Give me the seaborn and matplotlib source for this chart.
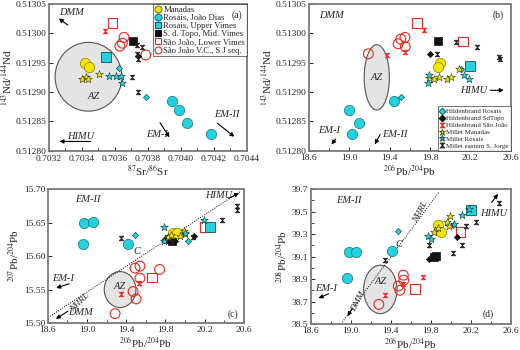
import numpy as np
import matplotlib
matplotlib.use("Agg")
import matplotlib.pyplot as plt
from matplotlib.patches import Ellipse
from matplotlib.path import Path
from matplotlib.lines import Line2D
import seaborn as sns

# ---- data: per group, per panel (x list, y list) ----
manadas = {
    "a": ([0.70342, 0.70344], [0.51295, 0.512943]),
    "b": ([19.90, 19.875], [0.51295, 0.512943]),
    "c": ([19.88, 19.915], [15.634, 15.635]),
    "d": ([19.87, 19.90], [39.38, 39.32]),
}
joao_dias = {
    "a": ([0.703945, 0.703987, 0.704034, 0.704182], [0.512885, 0.512869, 0.512847, 0.512828]),
    "b": ([19.445, 18.997, 19.094, 19.023], [0.512884, 0.51287, 0.512848, 0.512828]),
    "c": ([18.973, 19.065, 18.963, 19.415], [15.649, 15.651, 15.618, 15.618]),
    "d": ([18.977, 19.056, 18.957, 19.41], [39.143, 39.143, 38.912, 39.152]),
}
upper_vimes = {
    "a": ([0.703546], [0.512959]),
    "b": ([20.20], [0.512944]),
    "c": ([20.25], [15.644]),
    "d": ([20.20], [39.513]),
}
sdtopo = {
    "a": ([0.703712], [0.512986]),
    "b": ([19.875], [0.512986]),
    "c": ([19.84, 19.87], [15.626, 15.623]),
    "d": ([19.852, 19.83], [39.104, 39.095]),
}
lower_vimes = {
    "a": ([0.703585], [0.513017]),
    "b": ([19.67, 20.128], [0.513017, 0.512986]),
    "c": ([20.20, 19.66], [15.643, 15.568]),
    "d": ([20.098, 19.64], [39.32, 38.81]),
}
vc_sj = {
    "a": ([0.703655, 0.703645, 0.703630, 0.703787], [0.512993, 0.512983, 0.512978, 0.512963]),
    "b": ([19.19, 19.485, 19.51, 19.553, 19.556], [0.512965, 0.512982, 0.51299, 0.512993, 0.512977]),
    "c": ([19.49, 19.54, 19.54, 19.47, 19.50, 19.286, 19.74],
          [15.582, 15.585, 15.567, 15.547, 15.536, 15.514, 15.580]),
    "d": ([19.525, 19.53, 19.475, 19.49, 19.28], [38.935, 38.89, 38.838, 38.80, 38.675]),
}
hild_rosais = {
    "a": ([0.703625, 0.703787], [0.512941, 0.512891]),
    "b": ([19.51, 20.112], [0.512891, 0.51294]),
    "c": ([19.49, 20.03], [15.632, 15.623]),
    "d": ([19.475, 20.02], [39.33, 39.38]),
}
hild_sdtopo = {
    "a": ([0.70374], [0.512962]),
    "b": ([19.80], [0.512965]),
    "c": ([20.09, 19.79, 19.90], [15.630, 15.624, 15.622]),
    "d": ([19.787, 20.066], [39.075, 39.276]),
}
hild_sj = {
    "a": ([0.703542], [0.513004]),
    "b": ([19.37, 19.745, 19.553], [0.512963, 0.513006, 0.512968]),
    "c": ([19.344, 19.534], [15.543, 15.56]),
    "d": ([19.338, 19.525, 19.72], [38.758, 38.86, 38.92]),
}
millet_manadas = {
    "a": ([0.703398, 0.703425, 0.703435, 0.703504], [0.512923, 0.512925, 0.512922, 0.51293]),
    "b": ([19.794, 19.842, 19.891, 19.972, 20.005, 20.086],
          [0.512924, 0.512922, 0.512925, 0.512922, 0.512925, 0.51294]),
    "c": ([19.83, 19.86, 19.99, 20.0, 19.95], [15.628, 15.632, 15.637, 15.633, 15.630]),
    "d": ([19.83, 19.87, 19.96, 19.995, 19.98], [39.32, 39.35, 39.41, 39.46, 39.37]),
}
millet_rosais = {
    "a": ([0.703564, 0.703607, 0.703635, 0.70364], [0.512928, 0.512928, 0.512927, 0.512916]),
    "b": ([19.794, 19.777, 20.135, 20.184], [0.512929, 0.512915, 0.512929, 0.512923]),
    "c": ([19.78, 19.79, 20.196, 20.0], [15.644, 15.622, 15.654, 15.634]),
    "d": ([19.77, 19.80, 20.11, 20.18, 20.03], [39.28, 39.26, 39.47, 39.52, 39.39]),
}
millet_east = {
    "a": ([0.703732, 0.703763, 0.703736, 0.703742, 0.703706, 0.703742],
          [0.51298, 0.512977, 0.512965, 0.512957, 0.512925, 0.5129]),
    "b": ([19.868, 20.063, 20.265, 20.486, 20.49], [0.512964, 0.512985, 0.512977, 0.51296, 0.512956]),
    "c": ([19.347, 20.525, 20.525, 20.38, 20.08, 19.87], [15.627, 15.674, 15.669, 15.654, 15.628, 15.621]),
    "d": ([19.784, 19.338, 20.026, 20.108, 20.157, 20.256, 20.485],
          [39.2, 39.07, 39.128, 39.2, 39.37, 39.41, 39.573]),
}

# AZ field: centre x, centre y, width, height
az_field = {
    "a": (0.70344, 0.512926, 0.000405, 0.000117),
    "b": (19.273, 0.512925, 0.25, 0.000111),
    "c": (19.337, 15.550, 0.323, 0.0536),
    "d": (19.295, 38.808, 0.334, 0.43),
}
nhrl_c_x, nhrl_c_y = [18.6, 20.56], [15.508, 15.696]
nhrl_d_x, nhrl_d_y = [18.90, 19.885], [38.5, 39.676]

# ---- style ----
sns.set_style("ticks")
plt.rcParams["font.family"] = ["Liberation Serif", "DejaVu Serif"]
plt.rcParams["mathtext.fontset"] = "stix"

hourglass = Path([(-1, 1), (1, 1), (-1, -1), (1, -1), (-1, 1)],
                 [Path.MOVETO, Path.LINETO, Path.LINETO, Path.LINETO, Path.CLOSEPOLY])

CYAN = "#22d3df"
YELLOW = "#f2e600"
RED = "#e8281e"
groups = [
    # data, marker, size, face, edge, lw, label
    (vc_sj, "o", 50, "none", RED, 0.8, "São João V.C., S J seq."),
    (lower_vimes, "s", 48, "none", RED, 0.8, "São João, Lower Vimes"),
    (joao_dias, "o", 55, CYAN, "#1a6f78", 0.5, "Rosais, João Dias"),
    (upper_vimes, "s", 50, CYAN, "#1a4f55", 0.6, "Rosais, Upper Vimes"),
    (sdtopo, "s", 38, "#111111", "#111111", 0.5, "S. d. Topo, Mid. Vimes"),
    (manadas, "o", 55, YELLOW, "#8a7d00", 0.5, "Manadas"),
    (hild_rosais, "D", 10, CYAN, "#1a5055", 0.5, "Hildenbrand Rosais"),
    (hild_sdtopo, "D", 10, "#111111", "#111111", 0.5, "Hildenbrand SdTopo"),
    (hild_sj, hourglass, 11, RED, RED, 0.5, "Hildenbrand São João"),
    (millet_manadas, "*", 34, YELLOW, "#3a3a10", 0.4, "Millet Manadas"),
    (millet_rosais, "*", 34, CYAN, "#103a3a", 0.4, "Millet Rosais"),
    (millet_east, hourglass, 11, "#222222", "#222222", 0.5, "Millet eastern S. Jorge"),
]

fig = plt.figure(figsize=(5.2, 3.5), dpi=100)
axes = {
    "a": fig.add_axes([0.094, 0.569, 0.381, 0.42]),
    "b": fig.add_axes([0.594, 0.569, 0.388, 0.42]),
    "c": fig.add_axes([0.092, 0.077, 0.377, 0.383]),
    "d": fig.add_axes([0.598, 0.074, 0.384, 0.386]),
}

for key, ax in axes.items():
    cx, cy, w, h = az_field[key]
    ax.add_patch(Ellipse((cx, cy), w, h, facecolor="#e4e4e4", edgecolor="#555555", lw=0.8, zorder=1))
    for data, mk, s, fc, ec, lw, lab in groups:
        xs, ys = data[key]
        sns.scatterplot(x=xs, y=ys, ax=ax, marker=mk, s=s, color=ec, facecolor=fc,
                        edgecolor=ec, linewidth=lw, zorder=3, legend=False)
    for sp in ax.spines.values():
        sp.set_color("#7a7a7a")
        sp.set_linewidth(1.3)
    ax.tick_params(direction="in", length=3, width=0.7, labelsize=6.8, pad=2)
    ax.tick_params(which="minor", direction="in", length=2, width=0.6)

it = dict(fontsize=7.5, style="italic")
arrow = dict(arrowstyle="-|>", color="k", lw=0.8, mutation_scale=6)

# ---- panel a ----
ax = axes["a"]
ax.set_xlim(0.7032, 0.7044)
ax.set_ylim(0.51280, 0.51305)
ax.set_xticks(np.arange(0.7032, 0.70441, 0.0002))
ax.set_xticks(np.arange(0.7033, 0.7044, 0.0002), minor=True)
ax.set_yticks(np.arange(0.51280, 0.513051, 0.00005))
ax.xaxis.set_major_formatter(matplotlib.ticker.FormatStrFormatter("%.4f"))
ax.yaxis.set_major_formatter(matplotlib.ticker.FormatStrFormatter("%.5f"))
ax.tick_params(axis="x", pad=3)
ax.set_xlabel(r"$^{87}$Sr/$^{86}$Sr", fontsize=8, labelpad=0)
ax.set_ylabel(r"$^{143}$Nd/$^{144}$Nd", fontsize=8, labelpad=1)
ax.text(0.703469, 0.512892, "AZ", ha="center", va="center", **it)
ax.text(0.70334, 0.513035, "DMM", ha="center", va="center", **it)
ax.annotate("", xy=(0.703247, 0.513028), xytext=(0.703328, 0.513011), arrowprops=arrow)
ax.text(0.70339, 0.512825, "HIMU", ha="center", va="center", **it)
ax.annotate("", xy=(0.703247, 0.512816), xytext=(0.70347, 0.512816), arrowprops=arrow)
ax.text(0.703854, 0.512827, "EM-I", ha="center", va="center", **it)
ax.annotate("", xy=(0.703939, 0.512819), xytext=(0.703864, 0.512852), arrowprops=arrow)
ax.text(0.704279, 0.512861, "EM-II", ha="center", va="center", **it)
ax.annotate("", xy=(0.704336, 0.512821), xytext=(0.704208, 0.51285), arrowprops=arrow)
handles_a = []
for data, mk, s, fc, ec, lw, lab in [groups[5], groups[2], groups[3], groups[4], groups[1], groups[0]]:
    handles_a.append(Line2D([], [], ls="", marker=mk, markersize=5, markerfacecolor=fc,
                            markeredgecolor=ec, markeredgewidth=0.8, label=lab))
leg = ax.legend(handles=handles_a, loc="upper right", fontsize=6.2, frameon=True, fancybox=False,
                borderaxespad=0.0, handlelength=0.7, handletextpad=0.3, labelspacing=0.02,
                borderpad=0.2)
leg.get_frame().set_edgecolor("#333333")
leg.get_frame().set_linewidth(0.6)
ax.text(0.70434, 0.513031, "(a)", ha="center", va="center", fontsize=7, zorder=10)

# ---- panel b ----
ax = axes["b"]
ax.set_xlim(18.6, 20.6)
ax.set_ylim(0.51280, 0.51305)
ax.set_xticks(np.arange(18.6, 20.61, 0.4))
ax.set_xticks(np.arange(18.8, 20.6, 0.4), minor=True)
ax.set_yticks(np.arange(0.51280, 0.513051, 0.00005))
ax.xaxis.set_major_formatter(matplotlib.ticker.FormatStrFormatter("%.1f"))
ax.yaxis.set_major_formatter(matplotlib.ticker.FormatStrFormatter("%.5f"))
ax.set_xlabel(r"$^{206}$Pb/$^{204}$Pb", fontsize=8, labelpad=1)
ax.set_ylabel(r"$^{143}$Nd/$^{144}$Nd", fontsize=8, labelpad=1)
ax.text(19.273, 0.512925, "AZ", ha="center", va="center", **it)
ax.text(18.82, 0.51303, "DMM", ha="center", va="center", **it)
ax.text(20.476, 0.51303, "(b)", ha="center", va="center", fontsize=7)
ax.text(20.23, 0.512903, "HIMU", ha="center", va="center", **it)
ax.annotate("", xy=(20.56, 0.512903), xytext=(20.37, 0.512903), arrowprops=arrow)
ax.text(18.80, 0.512835, "EM-I", ha="center", va="center", **it)
ax.annotate("", xy=(18.808, 0.512807), xytext=(18.883, 0.512824), arrowprops=arrow)
ax.text(19.45, 0.512827, "EM-II", ha="center", va="center", **it)
ax.annotate("", xy=(19.24, 0.512807), xytext=(19.32, 0.512832), arrowprops=arrow)
handles_b = []
for data, mk, s, fc, ec, lw, lab in groups[6:]:
    handles_b.append(Line2D([], [], ls="", marker=mk, markersize=3.5 if mk != "*" else 5,
                            markerfacecolor=fc, markeredgecolor=ec, markeredgewidth=0.6, label=lab))
leg = ax.legend(handles=handles_b, loc="lower right", fontsize=5, frameon=True, fancybox=False,
                borderaxespad=0.0, handlelength=0.6, handletextpad=0.3, labelspacing=0.15,
                borderpad=0.3)
leg.get_frame().set_edgecolor("#333333")
leg.get_frame().set_linewidth(0.6)

# ---- panel c ----
ax = axes["c"]
ax.set_xlim(18.6, 20.6)
ax.set_ylim(15.50, 15.70)
ax.set_xticks(np.arange(18.6, 20.61, 0.4))
ax.set_xticks(np.arange(18.8, 20.6, 0.4), minor=True)
ax.set_yticks(np.arange(15.50, 15.701, 0.05))
ax.xaxis.set_major_formatter(matplotlib.ticker.FormatStrFormatter("%.1f"))
ax.yaxis.set_major_formatter(matplotlib.ticker.FormatStrFormatter("%.2f"))
ax.set_xlabel(r"$^{206}$Pb/$^{204}$Pb", fontsize=8, labelpad=1)
ax.set_ylabel(r"$^{207}$Pb/$^{204}$Pb", fontsize=8, labelpad=1)
sns.lineplot(x=nhrl_c_x, y=nhrl_c_y, ax=ax, color="k", lw=0.7, ls=(0, (1, 1.5)), zorder=2)
ax.text(19.337, 15.555, "AZ", ha="center", va="center", **it)
ax.text(18.93, 15.53, "NHRL", ha="center", va="center", rotation=44, fontsize=6.5, style="italic")
ax.text(19.507, 15.607, "C", ha="center", va="center", **it)
ax.text(19.01, 15.684, "EM-II", ha="center", va="center", **it)
ax.text(20.34, 15.691, "HIMU", ha="center", va="center", **it)
ax.annotate("", xy=(20.576, 15.696), xytext=(20.42, 15.684), arrowprops=arrow)
ax.text(18.76, 15.567, "EM-I", ha="center", va="center", **it)
ax.annotate("", xy=(18.658, 15.551), xytext=(18.845, 15.56), arrowprops=arrow)
ax.text(18.93, 15.515, "DMM", ha="center", va="center", **it)
ax.annotate("", xy=(18.658, 15.504), xytext=(18.83, 15.52), arrowprops=arrow)
ax.text(20.49, 15.513, "(c)", ha="center", va="center", fontsize=7)

# ---- panel d ----
ax = axes["d"]
ax.set_xlim(18.6, 20.6)
ax.set_ylim(38.5, 39.7)
ax.set_xticks(np.arange(18.6, 20.61, 0.4))
ax.set_xticks(np.arange(18.8, 20.6, 0.4), minor=True)
ax.set_yticks(np.arange(38.5, 39.71, 0.2))
ax.set_yticks(np.arange(38.6, 39.7, 0.2), minor=True)
ax.xaxis.set_major_formatter(matplotlib.ticker.FormatStrFormatter("%.1f"))
ax.yaxis.set_major_formatter(matplotlib.ticker.FormatStrFormatter("%.1f"))
ax.set_xlabel(r"$^{206}$Pb/$^{204}$Pb", fontsize=8, labelpad=1)
ax.set_ylabel(r"$^{208}$Pb/$^{204}$Pb", fontsize=8, labelpad=1)
sns.lineplot(x=nhrl_d_x, y=nhrl_d_y, ax=ax, color="k", lw=0.7, ls=(0, (1, 1.5)), zorder=2)
ax.text(19.295, 38.88, "AZ", ha="center", va="center", **it)
ax.text(19.7, 39.5, "NHRL", ha="center", va="center", rotation=62, fontsize=6.5, style="italic")
ax.text(19.48, 39.21, "C", ha="center", va="center", **it)
ax.text(18.98, 39.6, "EM-II", ha="center", va="center", **it)
ax.text(20.43, 39.48, "HIMU", ha="center", va="center", **it)
ax.annotate("", xy=(20.49, 39.676), xytext=(20.393, 39.56), arrowprops=arrow)
ax.text(18.75, 38.82, "EM-I", ha="center", va="center", **it)
ax.annotate("", xy=(18.65, 38.72), xytext=(18.803, 38.78), arrowprops=arrow)
ax.text(19.08, 38.70, "DMM", ha="center", va="center", rotation=62, fontsize=6.5, style="italic")
ax.annotate("", xy=(18.95, 38.55), xytext=(19.03, 38.66), arrowprops=arrow)
ax.text(20.38, 38.59, "(d)", ha="center", va="center", fontsize=7)

fig.savefig("out.png", dpi=100)
